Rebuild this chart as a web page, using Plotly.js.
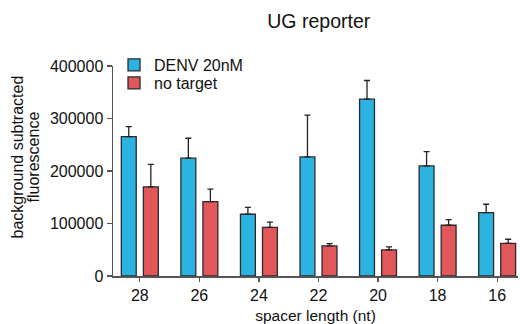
<!DOCTYPE html>
<html><head><meta charset="utf-8">
<script src="https://cdn.plot.ly/plotly-3.0.1.min.js"></script>
<style>html,body{margin:0;padding:0;background:#fff}</style>
</head><body><div id="chart" style="width:520px;height:324px"></div>
<script>
const categories = ["28","26","24","22","20","18","16"];
const denv = [265600, 224400, 117600, 226900, 336900, 209700, 120700];
const denvErr = [19000, 38000, 13000, 79500, 35500, 27300, 16000];
const noTarget = [169700, 141700, 92800, 57200, 49600, 96700, 62300];
const noTargetErr = [43000, 23600, 10000, 4400, 5700, 10600, 7700];
const seriesNames = ["DENV 20nM", "no target"];
const yTitleLines = ["background subtracted", "fluorescence"];
const zeros = categories.map(() => 0);

const FONT = "Liberation Sans, Arial, Helvetica, sans-serif";
const traces = [
  {type:"bar", name:seriesNames[0], x:categories, y:denv, width:0.25, offset:-0.31, legend:"legend",
   marker:{color:"#2bb4e2", line:{color:"#2a2a2a", width:1.3}},
   error_y:{type:"data", array:denvErr, arrayminus:zeros, symmetric:false, color:"#222", thickness:1.3, width:3}},
  {type:"bar", name:seriesNames[1], x:categories, y:noTarget, width:0.25, offset:0.06, legend:"legend2",
   marker:{color:"#e2575a", line:{color:"#2a2a2a", width:1.3}},
   error_y:{type:"data", array:noTargetErr, arrayminus:zeros, symmetric:false, color:"#222", thickness:1.3, width:3}}
];
const legBase = {x:0.0025, xanchor:"left", yanchor:"middle", font:{size:16, family:FONT, color:"#111"}, bgcolor:"rgba(0,0,0,0)", itemwidth:30};
const layout = {
  width:520, height:324,
  margin:{l:113, r:2, t:66, b:48},
  paper_bgcolor:"#fff", plot_bgcolor:"#fff",
  font:{family:FONT, color:"#111", size:16},
  title:{text:"UG reporter", x:0.613, xanchor:"center", y:0.936, yanchor:"middle", font:{size:19.5, family:FONT, color:"#111"}},
  barmode:"group",
  showlegend:true,
  legend:Object.assign({}, legBase, {y:1.005}),
  legend2:Object.assign({}, legBase, {y:0.919}),
  xaxis:{type:"category", range:[-0.45, 6.35], showline:true, linecolor:"#555", linewidth:1.5,
    ticks:"outside", ticklen:4, tickcolor:"#555", tickwidth:1.3, showgrid:false, zeroline:false,
    tickfont:{size:16, family:FONT, color:"#111"},
    title:{text:"spacer length (nt)", standoff:9, font:{size:15.5, family:FONT, color:"#111"}}},
  yaxis:{range:[0, 400000], tickvals:[0,100000,200000,300000,400000], ticktext:["0","100000","200000","300000","400000"],
    showline:true, linecolor:"#555", linewidth:1.5, ticks:"outside", ticklen:5, tickcolor:"#555", tickwidth:1.3,
    showgrid:false, zeroline:false, tickfont:{size:16, family:FONT, color:"#111"}},
  annotations:[
    {text:yTitleLines[0], xref:"paper", yref:"paper", x:(17.5-113)/405, y:0.567, xanchor:"center", yanchor:"middle", textangle:-90, showarrow:false, font:{size:16, family:FONT, color:"#111"}},
    {text:yTitleLines[1], xref:"paper", yref:"paper", x:(33.5-113)/405, y:0.567, xanchor:"center", yanchor:"middle", textangle:-90, showarrow:false, font:{size:16, family:FONT, color:"#111"}}
  ]
};
Plotly.newPlot("chart", traces, layout, {displayModeBar:false, staticPlot:true});
</script></body></html>
